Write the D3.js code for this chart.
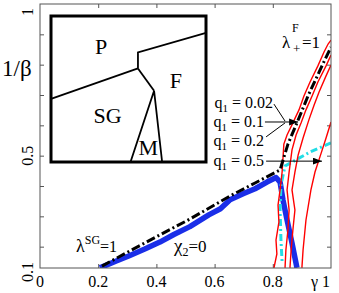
<!DOCTYPE html>
<html>
<head>
<meta charset="utf-8">
<script src="https://cdn.jsdelivr.net/npm/d3@7"></script>
<style>
  body { margin: 0; background: #fff; }
  text { font-family: "Liberation Serif", "Times New Roman", serif; fill: #000; }
</style>
</head>
<body>
<div id="chart"></div>
<script>
// values: [gamma, 1/beta]
const lambdaLine = [[0.213,0.136],[0.309,0.186],[0.412,0.239],[0.515,0.291],[0.653,0.367],[0.739,0.410],
  [0.825,0.453],[0.852,0.538],[0.883,0.608],[0.921,0.697],[0.969,0.796],[1.0,0.858]];
const chi2Line = [[0.206,0.130],[0.26,0.152],[0.309,0.171],[0.36,0.192],[0.412,0.215],[0.46,0.240],[0.515,0.266],
  [0.58,0.305],[0.62,0.325],[0.653,0.355],[0.70,0.375],[0.739,0.391],[0.78,0.413],[0.811,0.428],[0.825,0.413],
  [0.835,0.354],[0.849,0.288],[0.866,0.212],[0.883,0.130]];
const cyanLine = [[1.0,0.542],[0.928,0.512],[0.842,0.466],[0.828,0.403],[0.825,0.321],[0.828,0.222],[0.832,0.149]];
const redQ002 = [[0.804,0.130],[0.814,0.176],[0.811,0.222],[0.821,0.281],[0.818,0.337],[0.825,0.387],[0.832,0.446],
  [0.838,0.538],[0.849,0.568],[0.869,0.608],[0.890,0.651],[0.907,0.697],[0.928,0.743],[0.955,0.796],
  [0.976,0.842],[0.990,0.868],[1.0,0.881]];
const redQ01 = [[0.842,0.130],[0.845,0.189],[0.852,0.255],[0.856,0.321],[0.849,0.387],[0.856,0.446],[0.866,0.519],
  [0.880,0.568],[0.897,0.608],[0.914,0.651],[0.935,0.697],[0.955,0.743],[0.983,0.796],[1.0,0.832]];
const redQ02 = [[0.859,0.130],[0.863,0.189],[0.869,0.255],[0.876,0.321],[0.866,0.387],[0.876,0.446],[0.887,0.502],
  [0.904,0.558],[0.924,0.618],[0.942,0.667],[0.959,0.710],[0.983,0.763],[1.0,0.799]];
const redQ05 = [[0.900,0.130],[0.904,0.189],[0.914,0.288],[0.931,0.387],[0.945,0.446],[0.962,0.496],[0.983,0.558],[1.0,0.611]];

const xTickVals = [0.2, 0.4, 0.6, 0.8];
const yTickVals = [0.2, 0.3, 0.4, 0.5, 0.6, 0.7, 0.8, 0.9];
const xTickLabels = ["0", "0.2", "0.4", "0.6", "0.8"];
const yTickLabels = ["1", "0.5", "0.1"];

// arrows to the q1 curves
const arrowQ01 = [[0.773,0.611],[0.887,0.611]];
const leadQ002 = [[0.804,0.670],[0.842,0.614]];
const leadQ02 = [[0.777,0.562],[0.842,0.608]];
const arrowQ05 = [[0.777,0.482],[0.969,0.482]];
const qLabels = ["0.02", "0.1", "0.2", "0.5"];

// inset phase diagram, unit square coordinates
const insetPSG = [[0,0.432],[0.561,0.641]];
const insetPF = [[0.561,0.641],[0.561,0.75],[1,0.884]];
const insetSGF = [[0.561,0.641],[0.665,0.488]];
const insetM = [[0.513,0],[0.665,0.488],[0.717,0]];
const insetNames = ["P", "F", "SG", "M"];
const insetNamePos = [[0.323,0.743],[0.806,0.507],[0.365,0.267],[0.628,0.045]];

const WIDTH = 339, HEIGHT = 293;
const BOTTOM = 268;

const x = d3.scaleLinear().domain([0, 1]).range([40, 331]);
const y = d3.scaleLinear().domain([0.1, 1]).range([277, 4]);

const svg = d3.select('#chart').append('svg')
  .attr('width', WIDTH).attr('height', HEIGHT);

svg.append('defs').append('clipPath').attr('id', 'plotclip')
  .append('rect').attr('x', x(0)).attr('y', y(1))
  .attr('width', x(1) - x(0)).attr('height', BOTTOM - y(1));

const mk = svg.select('defs').append('marker')
  .attr('id', 'head').attr('markerUnits', 'userSpaceOnUse')
  .attr('markerWidth', 10).attr('markerHeight', 8)
  .attr('refX', 9).attr('refY', 3.5).attr('orient', 'auto');
mk.append('path').attr('d', 'M0,0 L9,3.5 L0,7 Z').attr('fill', '#000');

// inward ticks on all four sides
const tickCol = '#555';
const axes = [
  [d3.axisBottom(x).tickValues(xTickVals), `translate(0,${BOTTOM})`],
  [d3.axisTop(x).tickValues(xTickVals), `translate(0,${y(1)})`],
  [d3.axisLeft(y).tickValues(yTickVals), `translate(${x(0)},0)`],
  [d3.axisRight(y).tickValues(yTickVals), `translate(${x(1)},0)`]
];
axes.forEach(([ax, tr]) => {
  const g = svg.append('g').attr('transform', tr)
    .call(ax.tickSize(-4).tickFormat(''));
  g.select('.domain').remove();
  g.selectAll('line').attr('stroke', tickCol);
});

const line = d3.line().x(d => x(d[0])).y(d => y(d[1]));
const plot = svg.append('g').attr('clip-path', 'url(#plotclip)');

plot.append('path').attr('d', line(chi2Line))
  .attr('fill', 'none').attr('stroke', '#1a2ee8').attr('stroke-width', 5.5)
  .attr('stroke-linejoin', 'round');
plot.append('path').attr('d', line(cyanLine))
  .attr('fill', 'none').attr('stroke', '#22dde6').attr('stroke-width', 3)
  .attr('stroke-dasharray', '7,3,2,3');
[redQ002, redQ01, redQ02, redQ05].forEach(s => {
  plot.append('path').attr('d', line(s))
    .attr('fill', 'none').attr('stroke', '#ff0000').attr('stroke-width', 1.4);
});
plot.append('path').attr('d', line(lambdaLine))
  .attr('fill', 'none').attr('stroke', '#000').attr('stroke-width', 3)
  .attr('stroke-dasharray', '9,3,2,3');

// frame
svg.append('rect').attr('x', x(0)).attr('y', y(1))
  .attr('width', x(1) - x(0)).attr('height', BOTTOM - y(1))
  .attr('fill', 'none').attr('stroke', tickCol).attr('stroke-width', 1);

// tick labels
svg.selectAll('.xl').data(xTickLabels).join('text')
  .attr('x', d => x(+d)).attr('y', 287)
  .attr('text-anchor', 'middle').attr('font-size', 16).text(d => d);
svg.append('text').attr('x', x(1) - 1).attr('y', 287)
  .attr('text-anchor', 'end').attr('font-size', 16).text('γ 1');

const yNudge = {"1": 8, "0.5": 0, "0.1": -5};
yTickLabels.forEach(t => {
  svg.append('text')
    .attr('transform', `translate(33,${y(+t) + yNudge[t]}) rotate(-90)`)
    .attr('text-anchor', 'middle').attr('font-size', 16).text(t);
});
svg.append('text').attr('x', 2).attr('y', 76).attr('font-size', 23).text('1/β');

// arrows and q1 labels
[arrowQ01, leadQ002, leadQ02, arrowQ05].forEach((a, i) => {
  const p = svg.append('path').attr('d', line(a))
    .attr('fill', 'none').attr('stroke', '#000').attr('stroke-width', 1);
  if (i === 0 || i === 3) p.attr('marker-end', 'url(#head)');
});
const qRight = [273, 264, 264, 264];
const qBase = [108, 127, 146, 166];
qLabels.forEach((q, i) => {
  const t = svg.append('text').attr('x', qRight[i]).attr('y', qBase[i])
    .attr('text-anchor', 'end').attr('font-size', 16);
  t.append('tspan').text('q');
  t.append('tspan').attr('font-size', 11).attr('dy', 4).text('1');
  t.append('tspan').attr('dy', -4).text(' = ' + q);
});

// curve names
const lsg = svg.append('text').attr('x', 76).attr('y', 252).attr('font-size', 18);
lsg.append('tspan').text('λ');
lsg.append('tspan').attr('font-size', 12).attr('dy', -8).text('SG');
lsg.append('tspan').attr('dy', 8).attr('font-size', 16).text('=1');

const chi = svg.append('text').attr('x', 174).attr('y', 252).attr('font-size', 19);
chi.append('tspan').text('χ');
chi.append('tspan').attr('font-size', 12).attr('dy', 4).text('2');
chi.append('tspan').attr('dy', -4).attr('font-size', 17).text('=0');

const lf = svg.append('text').attr('font-size', 17);
lf.append('tspan').attr('x', 282).attr('y', 48).text('λ');
lf.append('tspan').attr('x', 292).attr('y', 32).attr('font-size', 12).text('F');
lf.append('tspan').attr('x', 293).attr('y', 53).attr('font-size', 13).text('+');
lf.append('tspan').attr('x', 302).attr('y', 48).text('=1');

// inset
const ix = d3.scaleLinear().domain([0, 1]).range([51, 206]);
const iy = d3.scaleLinear().domain([0, 1]).range([162, 16]);
const inset = svg.append('g');
inset.append('rect').attr('x', ix(0)).attr('y', iy(1))
  .attr('width', ix(1) - ix(0)).attr('height', iy(0) - iy(1))
  .attr('fill', '#fff').attr('stroke', '#000').attr('stroke-width', 3);
const iline = d3.line().x(d => ix(d[0])).y(d => iy(d[1]));
[insetPSG, insetPF, insetSGF, insetM].forEach(b => {
  inset.append('path').attr('d', iline(b))
    .attr('fill', 'none').attr('stroke', '#000').attr('stroke-width', 1.8);
});
insetNames.forEach((n, i) => {
  inset.append('text').attr('x', ix(insetNamePos[i][0])).attr('y', iy(insetNamePos[i][1]))
    .attr('text-anchor', 'middle').attr('font-size', 22).text(n);
});
</script>
</body>
</html>
